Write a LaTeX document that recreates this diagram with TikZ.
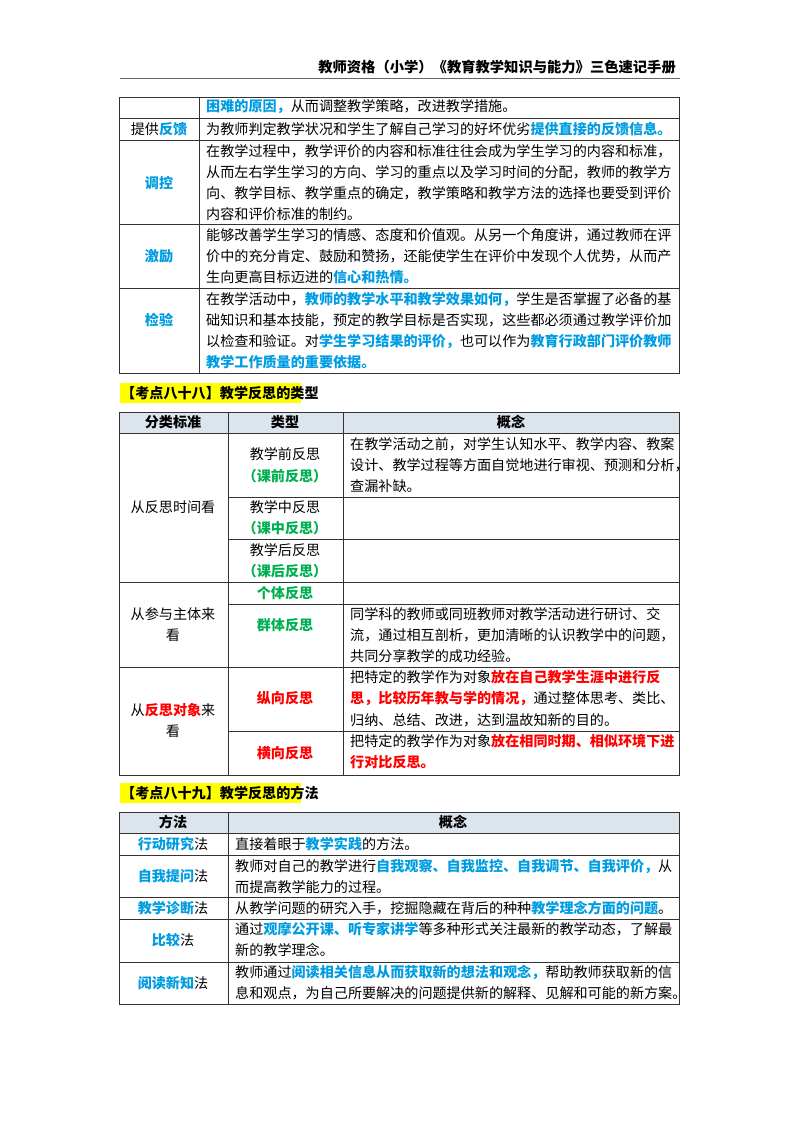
\documentclass[tikz,border=0pt]{standalone}
\usepackage{fontspec}
\setmainfont{Noto Sans CJK SC}
\usetikzlibrary{positioning}
\definecolor{bluetxt}{RGB}{0,156,226}
\definecolor{greentxt}{RGB}{0,176,80}
\definecolor{redtxt}{RGB}{255,0,0}
\definecolor{headfill}{RGB}{220,228,238}
\definecolor{markyellow}{RGB}{255,255,0}
\newcommand{\hb}[1]{\textcolor{bluetxt}{\bfseries #1}}
\newcommand{\hg}[1]{\textcolor{greentxt}{\bfseries #1}}
\newcommand{\hr}[1]{\textcolor{redtxt}{\bfseries #1}}
\newcounter{lnno}
% one text line, left aligned at (x,y)
\newcommand{\lineL}[3]{\stepcounter{lnno}\node[txt, anchor=west] (l\thelnno) at (#1,#2) {#3};}
% one text line, centred at (x,y)
\newcommand{\lineC}[3]{\stepcounter{lnno}\node[txt] (l\thelnno) at (#1,#2) {#3};}
\begin{document}
\begin{tikzpicture}[x=1pt, y=-1pt,
    txt/.style={inner sep=0pt, font=\fontsize{14.1}{16}\selectfont},
    grid/.style={draw=black!80, line width=0.8pt},
    highlight/.style={fill=markyellow},
    head/.style={fill=headfill}]
    \useasboundingbox (0,0) rectangle (800,1132);

    % Page header
    \draw[black!60, line width=0.6pt] (120,78) -- (680,78);
    \node[txt, anchor=east, font=\fontsize{14.3}{16}\selectfont\bfseries] (pagehead) at (676,67) {教师资格（小学）《教育教学知识与能力》三色速记手册};

    % Table 1 (continued)
    \draw[grid] (119,97) rectangle (679,373);
    \draw[grid] (199,97) -- (199,373);
    \foreach \y in {118,140,224,288} \draw[grid] (119,\y) -- (679,\y);
    \lineL{206}{107}{\hb{困难的原因，}从而调整教学策略，改进教学措施。}
    \lineC{159}{129}{提供\hb{反馈}}
    \lineL{206}{129}{为教师判定教学状况和学生了解自己学习的好坏优劣\hb{提供直接的反馈信息。}}
    \lineC{159}{183}{\hb{调控}}
    \lineL{206}{151}{在教学过程中，教学评价的内容和标准往往会成为学生学习的内容和标准，}
    \lineL{206}{172}{从而左右学生学习的方向、学习的重点以及学习时间的分配，教师的教学方}
    \lineL{206}{193}{向、教学目标、教学重点的确定，教学策略和教学方法的选择也要受到评价}
    \lineL{206}{214}{内容和评价标准的制约。}
    \lineC{159}{256}{\hb{激励}}
    \lineL{206}{235}{能够改善学生学习的情感、态度和价值观。从另一个角度讲，通过教师在评}
    \lineL{206}{256}{价中的充分肯定、鼓励和赞扬，还能使学生在评价中发现个人优势，从而产}
    \lineL{206}{277}{生向更高目标迈进的\hb{信心和热情。}}
    \lineC{159}{320}{\hb{检验}}
    \lineL{206}{299}{在教学活动中，\hb{教师的教学水平和教学效果如何，}学生是否掌握了必备的基}
    \lineL{206}{320}{础知识和基本技能，预定的教学目标是否实现，这些都必须通过教学评价加}
    \lineL{206}{341}{以检查和验证。对\hb{学生学习结果的评价，}也可以作为\hb{教育行政部门评价教师}}
    \lineL{206}{362}{\hb{教学工作质量的重要依据。}}

    % Section 88
    \fill[highlight] (120,383) rectangle (301,403);
    \lineL{121}{393}{\bfseries 【考点八十八】教学反思的类型}
    \fill[head] (119,412) rectangle (679,433);
    \draw[grid] (119,412) rectangle (679,775);
    \draw[grid] (228,412) -- (228,775);
    \draw[grid] (343,412) -- (343,775);
    \draw[grid] (119,433) -- (679,433);
    \foreach \y in {582,667} \draw[grid] (119,\y) -- (679,\y);
    \foreach \y in {497,539,604,731} \draw[grid] (228,\y) -- (679,\y);
    \lineC{173}{422}{\bfseries 分类标准}
    \lineC{285}{422}{\bfseries 类型}
    \lineC{511}{422}{\bfseries 概念}
    \lineC{173}{507}{从反思时间看}
    \lineC{285}{454}{教学前反思}
    \lineC{285}{476}{\hg{（课前反思）}}
    \lineL{350}{444}{在教学活动之前，对学生认知水平、教学内容、教案}
    \lineL{350}{465}{设计、教学过程等方面自觉地进行审视、预测和分析，}
    \lineL{350}{486}{查漏补缺。}
    \lineC{285}{507}{教学中反思}
    \lineC{285}{528}{\hg{（课中反思）}}
    \lineC{285}{550}{教学后反思}
    \lineC{285}{571}{\hg{（课后反思）}}
    \lineC{173}{614}{从参与主体来}
    \lineC{173}{635}{看}
    \lineC{285}{593}{\hg{个体反思}}
    \lineC{285}{625}{\hg{群体反思}}
    \lineL{350}{614}{同学科的教师或同班教师对教学活动进行研讨、交}
    \lineL{350}{635}{流，通过相互剖析，更加清晰的认识教学中的问题，}
    \lineL{350}{656}{共同分享教学的成功经验。}
    \lineC{173}{710}{从\hr{反思对象}来}
    \lineC{173}{731}{看}
    \lineC{285}{698}{\hr{纵向反思}}
    \lineL{350}{677}{把特定的教学作为对象\hr{放在自己教学生涯中进行反}}
    \lineL{350}{698}{\hr{思，比较历年教与学的情况，}通过整体思考、类比、}
    \lineL{350}{720}{归纳、总结、改进，达到温故知新的目的。}
    \lineC{285}{753}{\hr{横向反思}}
    \lineL{350}{741}{把特定的教学作为对象\hr{放在相同时期、相似环境下进}}
    \lineL{350}{762}{\hr{行对比反思。}}

    % Section 89
    \fill[highlight] (120,783) rectangle (301,803);
    \lineL{121}{793}{\bfseries 【考点八十九】教学反思的方法}
    \fill[head] (119,812) rectangle (679,833);
    \draw[grid] (119,812) rectangle (679,1004);
    \draw[grid] (228,812) -- (228,1004);
    \foreach \y in {833,855,897,919,962} \draw[grid] (119,\y) -- (679,\y);
    \lineC{173}{822}{\bfseries 方法}
    \lineC{453}{822}{\bfseries 概念}
    \lineC{173}{844}{\hb{行动研究}法}
    \lineL{235}{844}{直接着眼于\hb{教学实践}的方法。}
    \lineC{173}{876}{\hb{自我提问}法}
    \lineL{235}{866}{教师对自己的教学进行\hb{自我观察、自我监控、自我调节、自我评价，}从}
    \lineL{235}{887}{而提高教学能力的过程。}
    \lineC{173}{908}{\hb{教学诊断}法}
    \lineL{235}{908}{从教学问题的研究入手，挖掘隐藏在背后的种种\hb{教学理念方面的问题}。}
    \lineC{173}{940}{\hb{比较}法}
    \lineL{235}{929}{通过\hb{观摩公开课、听专家讲学}等多种形式关注最新的教学动态，了解最}
    \lineL{235}{950}{新的教学理念。}
    \lineC{173}{983}{\hb{阅读新知}法}
    \lineL{235}{972}{教师通过\hb{阅读相关信息从而获取新的想法和观念，}帮助教师获取新的信}
    \lineL{235}{993}{息和观点，为自己所要解决的问题提供新的解释、见解和可能的新方案。}
\end{tikzpicture}
\end{document}
